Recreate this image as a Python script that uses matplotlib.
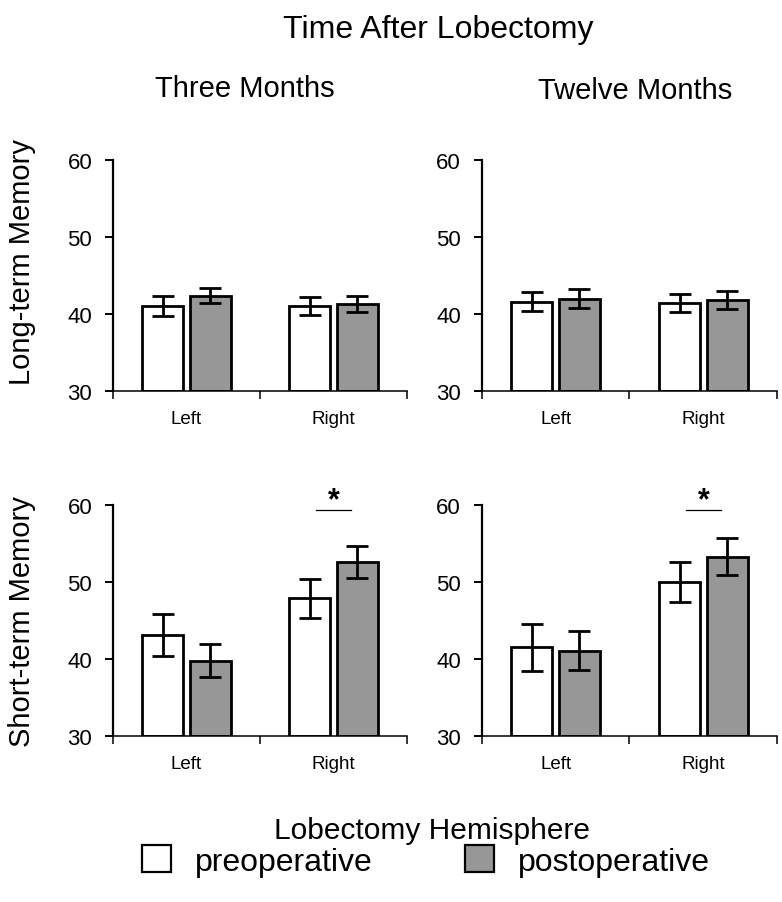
import matplotlib.pyplot as plt
from matplotlib.patches import Patch

plt.rcParams['font.family'] = ['Liberation Sans', 'DejaVu Sans']

# group means and standard errors read per panel
sides = ["Left", "Right"]
times = ["Three Months", "Twelve Months"]
measures = ["Long-term Memory", "Short-term Memory"]

lt3_pre = [41.0, 41.0]
lt3_pre_err = [1.3, 1.15]
lt3_post = [42.4, 41.3]
lt3_post_err = [1.0, 1.0]

lt12_pre = [41.6, 41.4]
lt12_pre_err = [1.2, 1.2]
lt12_post = [42.0, 41.8]
lt12_post_err = [1.2, 1.2]

st3_pre = [43.1, 47.9]
st3_pre_err = [2.7, 2.55]
st3_post = [39.8, 52.6]
st3_post_err = [2.2, 2.1]

st12_pre = [41.5, 50.0]
st12_pre_err = [3.0, 2.6]
st12_post = [41.1, 53.3]
st12_post_err = [2.5, 2.4]

panels = [
    [(lt3_pre, lt3_pre_err, lt3_post, lt3_post_err, False),
     (lt12_pre, lt12_pre_err, lt12_post, lt12_post_err, False)],
    [(st3_pre, st3_pre_err, st3_post, st3_post_err, True),
     (st12_pre, st12_pre_err, st12_post, st12_post_err, True)],
]

W, H = 782, 903
fig = plt.figure(figsize=(W / 100, H / 100), dpi=100)

gray = '#979797'
bw = 0.277
off = 0.161
ekw = dict(elinewidth=2.0, capthick=2.0)

lefts = [113, 481.7]
widths = [294, 295.5]
tops = [161, 506]
for r in range(2):
    for c in range(2):
        pre, pre_e, post, post_e, sig = panels[r][c]
        ax = fig.add_axes([lefts[c] / W, 1 - (tops[r] + 231) / H,
                           widths[c] / W, 231 / H])
        xs = [0.5, 1.5]
        ax.bar([x - off for x in xs], [v - 30 for v in pre], bw, bottom=30,
               color='white', edgecolor='black', linewidth=2.0,
               yerr=pre_e, capsize=8, error_kw=ekw, zorder=2)
        ax.bar([x + off for x in xs], [v - 30 for v in post], bw, bottom=30,
               color=gray, edgecolor='black', linewidth=2.0,
               yerr=post_e, capsize=8, error_kw=ekw, zorder=2)
        ax.set_xlim(0, 2)
        ax.set_ylim(30, 60)
        ax.set_yticks([30, 40, 50, 60])
        ax.tick_params(axis='y', direction='out', length=6, width=1.4,
                       labelsize=16, pad=9)
        ax.set_xticks([0, 1, 2])
        ax.set_xticklabels([])
        ax.set_xticks(xs, minor=True)
        ax.set_xticklabels(sides, minor=True)
        ax.tick_params(axis='x', which='major', direction='out', length=6,
                       width=1.1)
        ax.tick_params(axis='x', which='minor', length=0, labelsize=13.5,
                       pad=14)
        for s in ['top', 'right']:
            ax.spines[s].set_visible(False)
        ax.spines['left'].set_linewidth(1.6)
        ax.spines['bottom'].set_linewidth(1.1)
        if sig:
            # significance bracket over the Right pair
            ax.plot([1.38, 1.62], [59.4, 59.4], color='black', lw=0.9)
            ax.text(1.5, 59.6, '*', ha='center', va='baseline', fontsize=22,
                    fontweight='bold', clip_on=False)

fig.text(438 / W, 1 - 30 / H, "Time After Lobectomy", ha='center',
         va='center', fontsize=23)
fig.text(245 / W, 1 - 89 / H, times[0], ha='center', va='center', fontsize=21)
fig.text(635 / W, 1 - 91 / H, times[1], ha='center', va='center', fontsize=21)
fig.text(22 / W, 1 - 262 / H, measures[0], ha='center', va='center',
         rotation=90, fontsize=21)
fig.text(22 / W, 1 - 622 / H, measures[1], ha='center', va='center',
         rotation=90, fontsize=21)
fig.text(432 / W, 1 - 831 / H, "Lobectomy Hemisphere", ha='center',
         va='center', fontsize=21.5)

handles = [Patch(facecolor='white', edgecolor='black', linewidth=1.6),
           Patch(facecolor=gray, edgecolor='black', linewidth=1.6)]
fig.legend(handles, ["preoperative", "postoperative"], loc='center',
           bbox_to_anchor=(426 / W, 1 - 862 / H), ncol=2, frameon=False,
           fontsize=23, handlelength=0.9, handleheight=0.9,
           handletextpad=0.75, columnspacing=2.9)

fig.savefig("out.png", dpi=100)
